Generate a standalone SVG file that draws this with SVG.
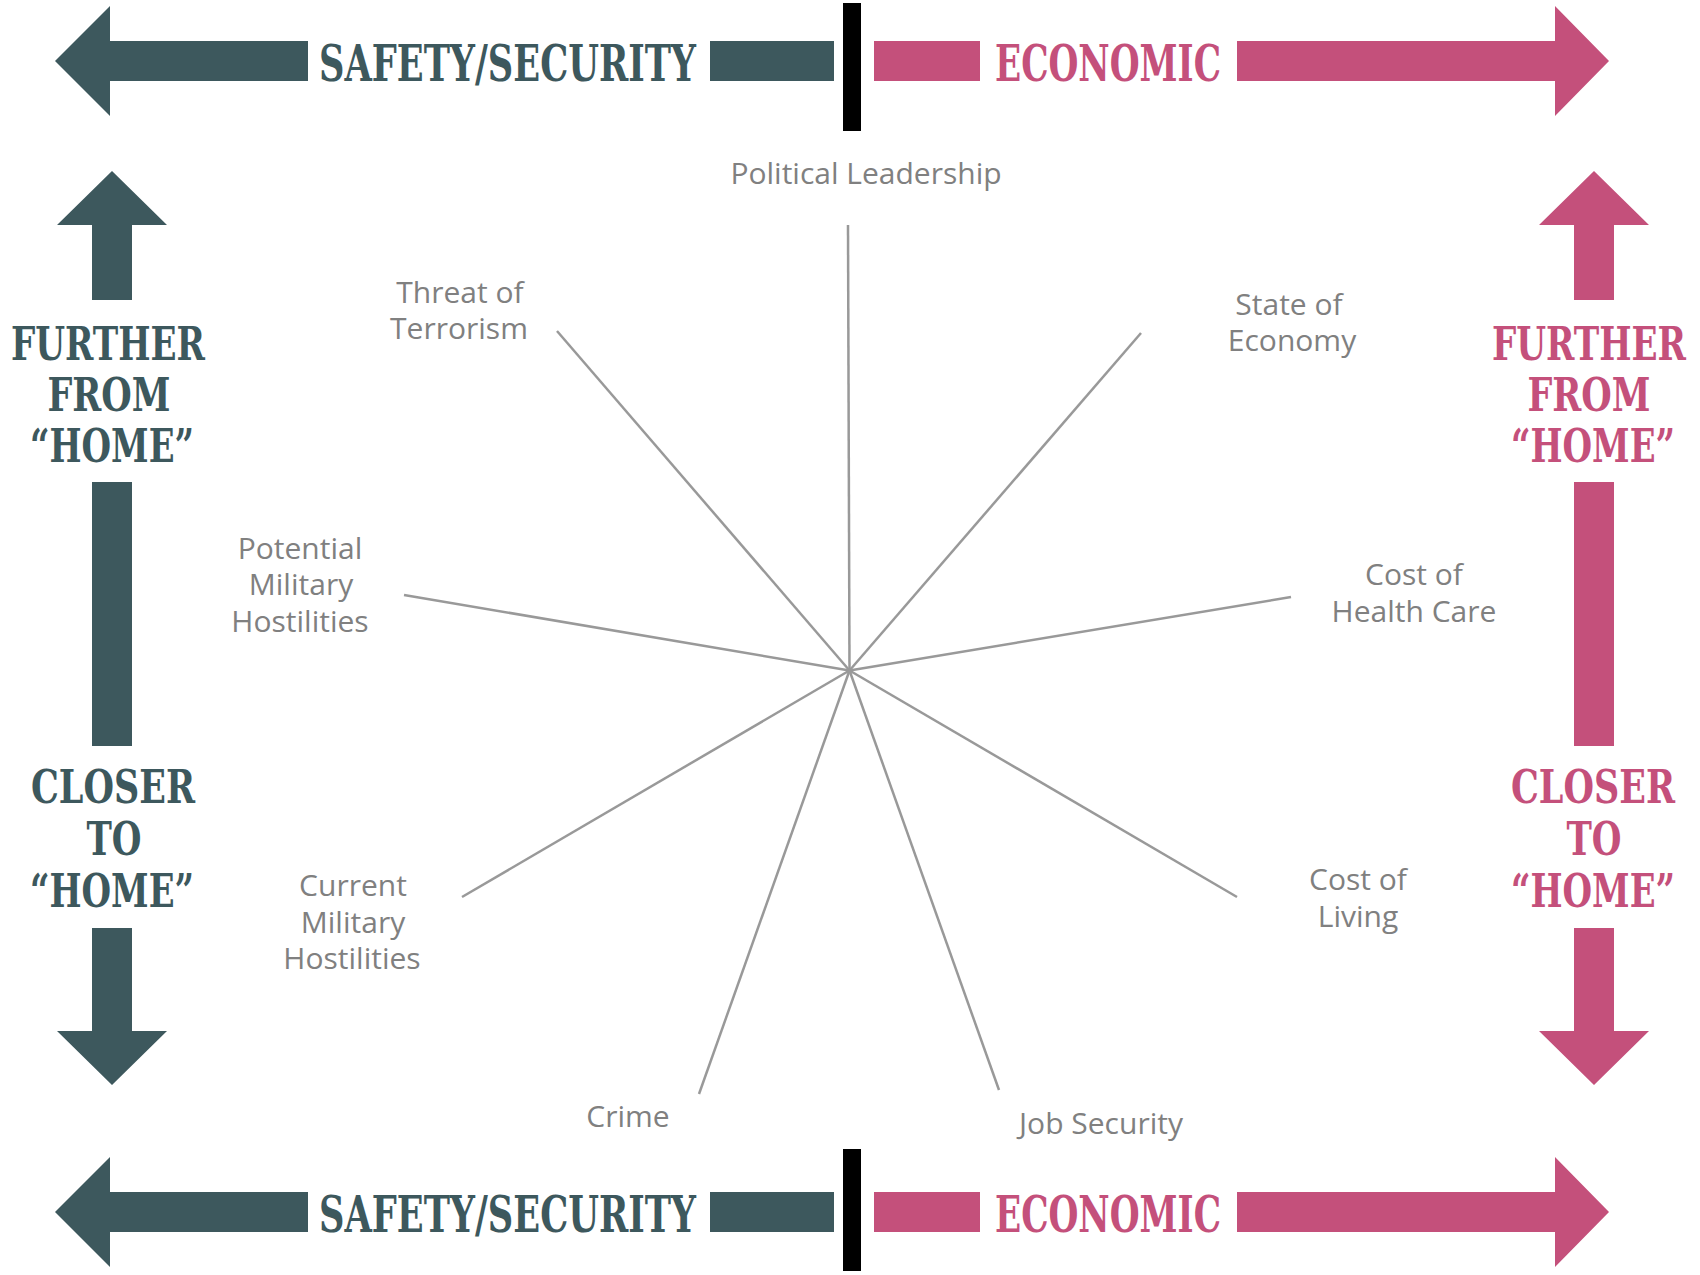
<svg xmlns="http://www.w3.org/2000/svg" width="1700" height="1275" viewBox="0 0 1700 1275">
<style>
.dk{fill:#3d585d}
.pk{fill:#c4507b}
.bar{fill:#000}
.hd{font-family:"DejaVu Serif Condensed","DejaVu Serif",serif;font-weight:bold;font-size:50px}
.vt{font-family:"DejaVu Serif","Liberation Serif",serif;font-weight:bold;font-size:46px;text-anchor:middle}
.lb{font-family:"Open Sans","Liberation Sans",sans-serif;font-size:30px;fill:#808080;text-anchor:middle}
.spoke{stroke:#999;stroke-width:2.5;fill:none}
</style>
<g id="top-bar">
  <polygon class="dk" points="55,61 110,6 110,41 308,41 308,81 110,81 110,116"/>
  <text class="hd dk" x="319" y="81" textLength="377" lengthAdjust="spacingAndGlyphs">SAFETY/SECURITY</text>
  <rect class="dk" x="710" y="41" width="124" height="40"/>
  <rect class="bar" x="843" y="3" width="18" height="128"/>
  <rect class="pk" x="874" y="41" width="106" height="40"/>
  <text class="hd pk" x="995" y="81" textLength="226" lengthAdjust="spacingAndGlyphs">ECONOMIC</text>
  <polygon class="pk" points="1237,41 1555,41 1555,6 1609,61 1555,116 1555,81 1237,81"/>
</g>
<g id="bottom-bar">
  <polygon class="dk" points="55,1212 110,1157 110,1192 308,1192 308,1232 110,1232 110,1267"/>
  <text class="hd dk" x="319" y="1232" textLength="377" lengthAdjust="spacingAndGlyphs">SAFETY/SECURITY</text>
  <rect class="dk" x="710" y="1192" width="124" height="40"/>
  <rect class="bar" x="843" y="1149" width="18" height="122"/>
  <rect class="pk" x="874" y="1192" width="106" height="40"/>
  <text class="hd pk" x="995" y="1232" textLength="226" lengthAdjust="spacingAndGlyphs">ECONOMIC</text>
  <polygon class="pk" points="1237,1192 1555,1192 1555,1157 1609,1212 1555,1267 1555,1232 1237,1232"/>
</g>
<g id="left-axis">
  <polygon class="dk" points="112,171 167,225 132,225 132,300 92,300 92,225 57,225"/>
  <text class="vt dk" x="108" y="360" textLength="194" lengthAdjust="spacingAndGlyphs">FURTHER</text>
  <text class="vt dk" x="109" y="411" textLength="123" lengthAdjust="spacingAndGlyphs">FROM</text>
  <text class="vt dk" x="112" y="462" textLength="164" lengthAdjust="spacingAndGlyphs">“HOME”</text>
  <rect class="dk" x="92" y="482" width="40" height="264"/>
  <text class="vt dk" x="113" y="803" textLength="164" lengthAdjust="spacingAndGlyphs">CLOSER</text>
  <text class="vt dk" x="114" y="855" textLength="55" lengthAdjust="spacingAndGlyphs">TO</text>
  <text class="vt dk" x="112" y="907" textLength="164" lengthAdjust="spacingAndGlyphs">“HOME”</text>
  <polygon class="dk" points="92,928 132,928 132,1031 167,1031 112,1085 57,1031 92,1031"/>
</g>
<g id="right-axis">
  <polygon class="pk" points="1594,171 1649,225 1614,225 1614,300 1574,300 1574,225 1539,225"/>
  <text class="vt pk" x="1589" y="360" textLength="194" lengthAdjust="spacingAndGlyphs">FURTHER</text>
  <text class="vt pk" x="1589" y="411" textLength="123" lengthAdjust="spacingAndGlyphs">FROM</text>
  <text class="vt pk" x="1593" y="462" textLength="164" lengthAdjust="spacingAndGlyphs">“HOME”</text>
  <rect class="pk" x="1574" y="482" width="40" height="264"/>
  <text class="vt pk" x="1593" y="803" textLength="164" lengthAdjust="spacingAndGlyphs">CLOSER</text>
  <text class="vt pk" x="1594" y="855" textLength="55" lengthAdjust="spacingAndGlyphs">TO</text>
  <text class="vt pk" x="1593" y="907" textLength="164" lengthAdjust="spacingAndGlyphs">“HOME”</text>
  <polygon class="pk" points="1574,928 1614,928 1614,1031 1649,1031 1594,1085 1539,1031 1574,1031"/>
</g>
<g id="connectors">
  <line class="spoke" x1="849.5" y1="670.5" x2="848" y2="225"/>
  <line class="spoke" x1="849.5" y1="670.5" x2="557" y2="331"/>
  <line class="spoke" x1="849.5" y1="670.5" x2="1141" y2="333"/>
  <line class="spoke" x1="849.5" y1="670.5" x2="404" y2="595"/>
  <line class="spoke" x1="849.5" y1="670.5" x2="1291" y2="597"/>
  <line class="spoke" x1="849.5" y1="670.5" x2="462" y2="897"/>
  <line class="spoke" x1="849.5" y1="670.5" x2="1237" y2="897"/>
  <line class="spoke" x1="849.5" y1="670.5" x2="699" y2="1094"/>
  <line class="spoke" x1="849.5" y1="670.5" x2="999" y2="1090"/>
</g>
<g id="political-leadership"><text class="lb" x="866" y="184">Political Leadership</text></g>
<g id="threat-of-terrorism"><text class="lb" x="460" y="303">Threat of</text><text class="lb" x="459" y="339">Terrorism</text></g>
<g id="state-of-economy"><text class="lb" x="1289" y="315">State of</text><text class="lb" x="1292" y="351">Economy</text></g>
<g id="potential-military"><text class="lb" x="300" y="559">Potential</text><text class="lb" x="301" y="595">Military</text><text class="lb" x="300" y="632">Hostilities</text></g>
<g id="cost-of-health-care"><text class="lb" x="1414" y="585">Cost of</text><text class="lb" x="1414" y="622">Health Care</text></g>
<g id="current-military"><text class="lb" x="353" y="896">Current</text><text class="lb" x="353" y="933">Military</text><text class="lb" x="352" y="969">Hostilities</text></g>
<g id="cost-of-living"><text class="lb" x="1358" y="890">Cost of</text><text class="lb" x="1358" y="927">Living</text></g>
<g id="crime"><text class="lb" x="628" y="1127">Crime</text></g>
<g id="job-security"><text class="lb" x="1101" y="1134">Job Security</text></g>
</svg>
